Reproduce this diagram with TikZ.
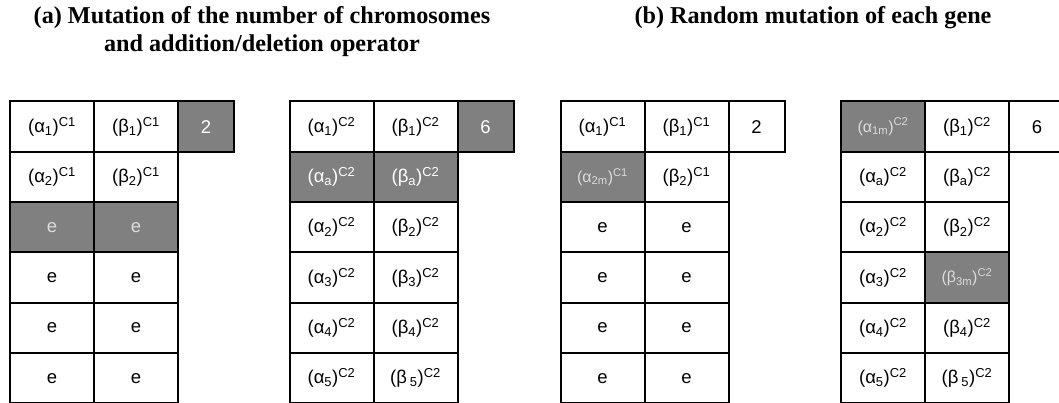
\documentclass[tikz,border=0pt]{standalone}
\usepackage{fontspec}
\setmainfont{Liberation Serif}
\newfontfamily\cellfont{Liberation Sans}
\usetikzlibrary{positioning}
\definecolor{GeneGray}{HTML}{808080}
\definecolor{MutText}{HTML}{DCDCDC}
\newcommand{\gene}[3]{(#1\textsubscript{#2})\textsuperscript{#3}}

\begin{document}
\begin{tikzpicture}[x=1pt, y=-1pt, node distance=0pt,
    cell/.style={rectangle, draw=black, line width=2pt, fill=white, minimum width=84pt, minimum height=50.3pt, inner sep=0pt, outer sep=0pt, text centered, font=\cellfont\fontsize{18.5}{22}\selectfont},
    numcell/.style={cell, minimum width=56pt},
    hit/.style={fill=GeneGray, text=white},
    faint/.style={fill=GeneGray, text=MutText},
    mut/.style={faint, font=\cellfont\fontsize{16}{19}\selectfont},
    title/.style={font=\bfseries\fontsize{24.2}{27.5}\selectfont, align=center, inner sep=0pt}]
    \useasboundingbox (0,0) rectangle (1059,403);

    \node[title, anchor=base] (ta) at (262,51.5) {(a) Mutation of the number of chromosomes\\and addition/deletion operator};
    \node[title, anchor=base] (tb) at (813,24) {(b) Random mutation of each gene};

    % (a) before: chromosome C1
    \node[cell, anchor=north west] (t1a1) at (10,101.5) {\gene{α}{1}{C1}};
    \node[cell, right=of t1a1] (t1b1) {\gene{β}{1}{C1}};
    \node[numcell, hit, right=of t1b1] (t1n) {2};
    \node[cell, below=of t1a1] (t1a2) {\gene{α}{2}{C1}};
    \node[cell, below=of t1b1] (t1b2) {\gene{β}{2}{C1}};
    \node[cell, faint, below=of t1a2] (t1a3) {e};
    \node[cell, faint, below=of t1b2] (t1b3) {e};
    \node[cell, below=of t1a3] (t1a4) {e};
    \node[cell, below=of t1b3] (t1b4) {e};
    \node[cell, below=of t1a4] (t1a5) {e};
    \node[cell, below=of t1b4] (t1b5) {e};
    \node[cell, below=of t1a5] (t1a6) {e};
    \node[cell, below=of t1b5] (t1b6) {e};

    % (a) after: chromosome C2
    \node[cell, anchor=north west] (t2a1) at (289.5,101.5) {\gene{α}{1}{C2}};
    \node[cell, right=of t2a1] (t2b1) {\gene{β}{1}{C2}};
    \node[numcell, hit, right=of t2b1] (t2n) {6};
    \node[cell, hit, below=of t2a1] (t2aa) {\gene{α}{a}{C2}};
    \node[cell, hit, below=of t2b1] (t2ba) {\gene{β}{a}{C2}};
    \node[cell, below=of t2aa] (t2a2) {\gene{α}{2}{C2}};
    \node[cell, below=of t2ba] (t2b2) {\gene{β}{2}{C2}};
    \node[cell, below=of t2a2] (t2a3) {\gene{α}{3}{C2}};
    \node[cell, below=of t2b2] (t2b3) {\gene{β}{3}{C2}};
    \node[cell, below=of t2a3] (t2a4) {\gene{α}{4}{C2}};
    \node[cell, below=of t2b3] (t2b4) {\gene{β}{4}{C2}};
    \node[cell, below=of t2a4] (t2a5) {\gene{α}{5}{C2}};
    \node[cell, below=of t2b4] (t2b5) {\gene{β\,}{5}{C2}};

    % (b) gene mutation in C1
    \node[cell, anchor=north west] (t3a1) at (560.5,101.5) {\gene{α}{1}{C1}};
    \node[cell, right=of t3a1] (t3b1) {\gene{β}{1}{C1}};
    \node[numcell, right=of t3b1] (t3n) {2};
    \node[cell, mut, below=of t3a1] (t3a2) {\gene{α}{2m}{C1}};
    \node[cell, below=of t3b1] (t3b2) {\gene{β}{2}{C1}};
    \node[cell, below=of t3a2] (t3a3) {e};
    \node[cell, below=of t3b2] (t3b3) {e};
    \node[cell, below=of t3a3] (t3a4) {e};
    \node[cell, below=of t3b3] (t3b4) {e};
    \node[cell, below=of t3a4] (t3a5) {e};
    \node[cell, below=of t3b4] (t3b5) {e};
    \node[cell, below=of t3a5] (t3a6) {e};
    \node[cell, below=of t3b5] (t3b6) {e};

    % (b) gene mutation in C2
    \node[cell, mut, anchor=north west] (t4a1) at (841,101.5) {\gene{α}{1m}{C2}};
    \node[cell, right=of t4a1] (t4b1) {\gene{β}{1}{C2}};
    \node[numcell, right=of t4b1] (t4n) {6};
    \node[cell, below=of t4a1] (t4aa) {\gene{α}{a}{C2}};
    \node[cell, below=of t4b1] (t4ba) {\gene{β}{a}{C2}};
    \node[cell, below=of t4aa] (t4a2) {\gene{α}{2}{C2}};
    \node[cell, below=of t4ba] (t4b2) {\gene{β}{2}{C2}};
    \node[cell, below=of t4a2] (t4a3) {\gene{α}{3}{C2}};
    \node[cell, mut, below=of t4b2] (t4b3) {\gene{β}{3m}{C2}};
    \node[cell, below=of t4a3] (t4a4) {\gene{α}{4}{C2}};
    \node[cell, below=of t4b3] (t4b4) {\gene{β}{4}{C2}};
    \node[cell, below=of t4a4] (t4a5) {\gene{α}{5}{C2}};
    \node[cell, below=of t4b4] (t4b5) {\gene{β\,}{5}{C2}};
\end{tikzpicture}
\end{document}
